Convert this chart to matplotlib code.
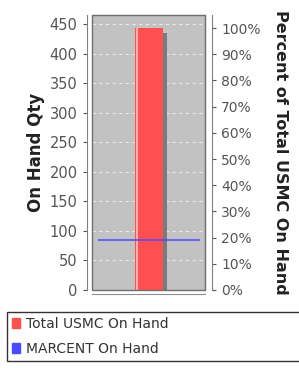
import matplotlib
matplotlib.use('Agg')
import matplotlib.pyplot as plt
from matplotlib.patches import Patch
from matplotlib.ticker import FuncFormatter

# values
categories = ['']
total_usmc = [443]
marcent = [84]
left_ticks = [0, 50, 100, 150, 200, 250, 300, 350, 400, 450]
pct_ticks = [0, 10, 20, 30, 40, 50, 60, 70, 80, 90, 100]

fig = plt.figure(figsize=(2.99, 3.68), dpi=100)
ax = fig.add_axes([0.308, 0.212, 0.378, 0.747])
ax.set_facecolor('#c2c2c2')

ymax = 465
ax.set_xlim(0, 1)
ax.set_ylim(0, ymax)

# shadow, bar, highlight
x0, w = 0.504, 0.25
ax.bar(x0 + 0.035, [v - 8 for v in total_usmc], width=w, color='#7a7a7a', zorder=2)
ax.bar(x0, total_usmc, width=w, color='#ff5050', zorder=3)
ax.bar(x0 - w / 2 + 0.02, total_usmc, width=0.02, color='#ffb0b0', zorder=4)
ax.hlines(marcent, 0.05, 0.955, color='#4a4aff', lw=1.1, zorder=5)

ax.set_yticks(left_ticks)
ax.yaxis.grid(True, color='#e8e8e8', ls=(0, (3, 3)), lw=0.8)
ax.set_axisbelow(True)
ax.set_xticks([])
ax.tick_params(axis='y', labelsize=10.5, colors='#555555', length=3, width=0.8)
ax.set_ylabel('On Hand Qty', fontsize=12, fontweight='bold', labelpad=3, color='#222222')

for s in ['top', 'right']:
    ax.spines[s].set_color('#707070')
ax.spines['left'].set_position(('outward', 4))
ax.spines['left'].set_color('#808080')
ax.spines['bottom'].set_position(('outward', 3))
ax.spines['bottom'].set_color('#909090')

# frame around plot area
ax.add_patch(plt.Rectangle((0, 0), 1, 1, transform=ax.transAxes, fill=False,
                           ec='#707070', lw=1, zorder=6, clip_on=False))

ax2 = ax.twinx()
ax2.set_ylim(0, ymax / 443 * 100 * 1.0)
ax2.set_yticks(pct_ticks)
ax2.yaxis.set_major_formatter(FuncFormatter(lambda v, p: f'{int(v)}%'))
ax2.tick_params(axis='y', labelsize=10, colors='#555555', length=3, width=0.8)
ax2.spines['right'].set_position(('outward', 5))
ax2.spines['right'].set_color('#808080')
for s in ['top', 'left', 'bottom']:
    ax2.spines[s].set_visible(False)
ax2.set_ylabel('Percent of Total USMC On Hand', fontsize=11.5, fontweight='bold',
               rotation=-90, labelpad=20, color='#222222')

handles = [Patch(color='#ff5050', label='Total USMC On Hand'),
           Patch(color='#4a4aff', label='MARCENT On Hand')]
leg = fig.legend(handles=handles, loc='upper left',
                 bbox_to_anchor=(7 / 299, 1 - 366 / 368, 1.0, 54 / 368),
                 mode='expand', fontsize=10, frameon=True, fancybox=False, handlelength=0.6,
                 handleheight=0.8, handletextpad=0.4, borderaxespad=0, borderpad=0.35,
                 labelspacing=0.8)
leg.get_frame().set_edgecolor('black')
leg.get_frame().set_linewidth(1)
for t in leg.get_texts():
    t.set_color('#333333')

fig.savefig('out.png', dpi=100)
